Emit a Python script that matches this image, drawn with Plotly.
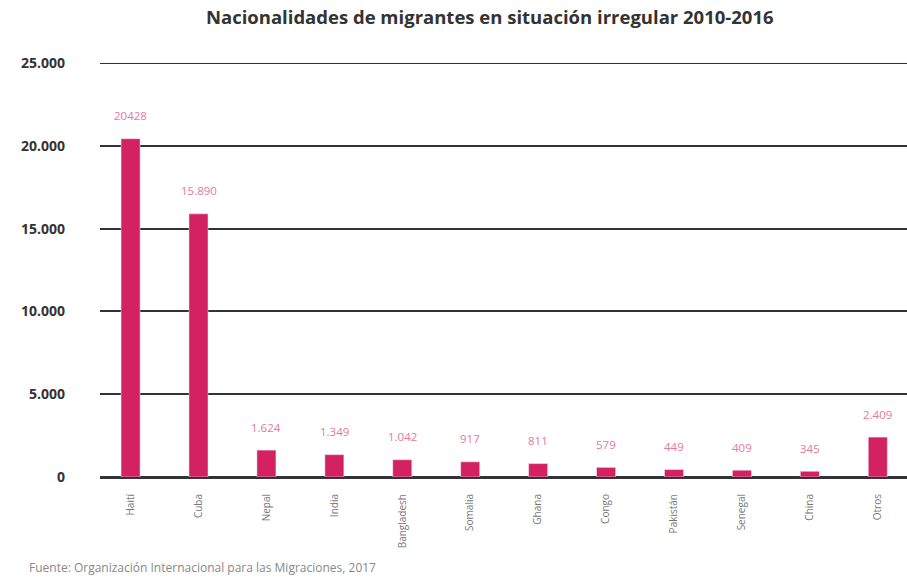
import plotly.graph_objects as go

categories = ["Haití", "Cuba", "Nepal", "India", "Bangladesh", "Somalia", "Ghana",
              "Congo", "Pakistán", "Senegal", "China", "Otros"]
values = [20428, 15890, 1624, 1349, 1042, 917, 811, 579, 449, 409, 345, 2409]
value_labels = ["20428", "15.890", "1.624", "1.349", "1.042", "917", "811", "579",
                "449", "409", "345", "2.409"]
y_ticks = [0, 5000, 10000, 15000, 20000, 25000]
y_tick_labels = ["0", "5.000", "10.000", "15.000", "20.000", "25.000"]

BAR = "#D4215F"
GRID = "#333333"
fig = go.Figure()
fig.add_trace(go.Bar(x=categories, y=values, marker_color=BAR, width=0.28,
                     hoverinfo="x+y"))

for c, v, t in zip(categories, values, value_labels):
    fig.add_annotation(x=c, y=v, text=t, showarrow=False, yshift=23,
                       font=dict(family="Open Sans", size=11.5, color="#E4789F"))

# top gridline at the range end
fig.add_shape(type="line", xref="paper", yref="y", x0=0, x1=1,
              y0=y_ticks[-1], y1=y_ticks[-1], line=dict(color=GRID, width=2))

fig.add_annotation(text="Fuente: Organización Internacional para las Migraciones, 2017",
                   xref="paper", yref="paper", x=-0.09, y=-0.218, xanchor="left",
                   yanchor="middle", showarrow=False,
                   font=dict(family="Open Sans", size=12, color="#888888"))

fig.update_layout(
    width=907, height=578,
    margin=dict(l=100, r=0, t=63, b=101),
    paper_bgcolor="white", plot_bgcolor="white",
    showlegend=False,
    title=dict(text="<b>Nacionalidades de migrantes en situación irregular 2010-2016</b>",
               x=0.54, xanchor="center", y=0.97, yanchor="middle",
               font=dict(family="Open Sans", size=18.5, color="#333333")),
    xaxis=dict(range=[-0.45, 11.43], tickangle=-90, showgrid=False, showline=False,
               tickfont=dict(family="Open Sans", size=10, color="#777777"),
               ticklabelstandoff=14, zeroline=False),
    yaxis=dict(range=[0, 25000], tickvals=y_ticks, ticktext=y_tick_labels,
               showgrid=True, gridcolor=GRID, gridwidth=2,
               zeroline=True, zerolinecolor=GRID, zerolinewidth=2.5,
               tickfont=dict(family="Open Sans", size=14, color="#333333", weight="bold"),
               ticklabelstandoff=34, showline=False),
)

fig.write_html("out.html", config={"displayModeBar": False},
               post_script="document.body.style.margin='0px';")
